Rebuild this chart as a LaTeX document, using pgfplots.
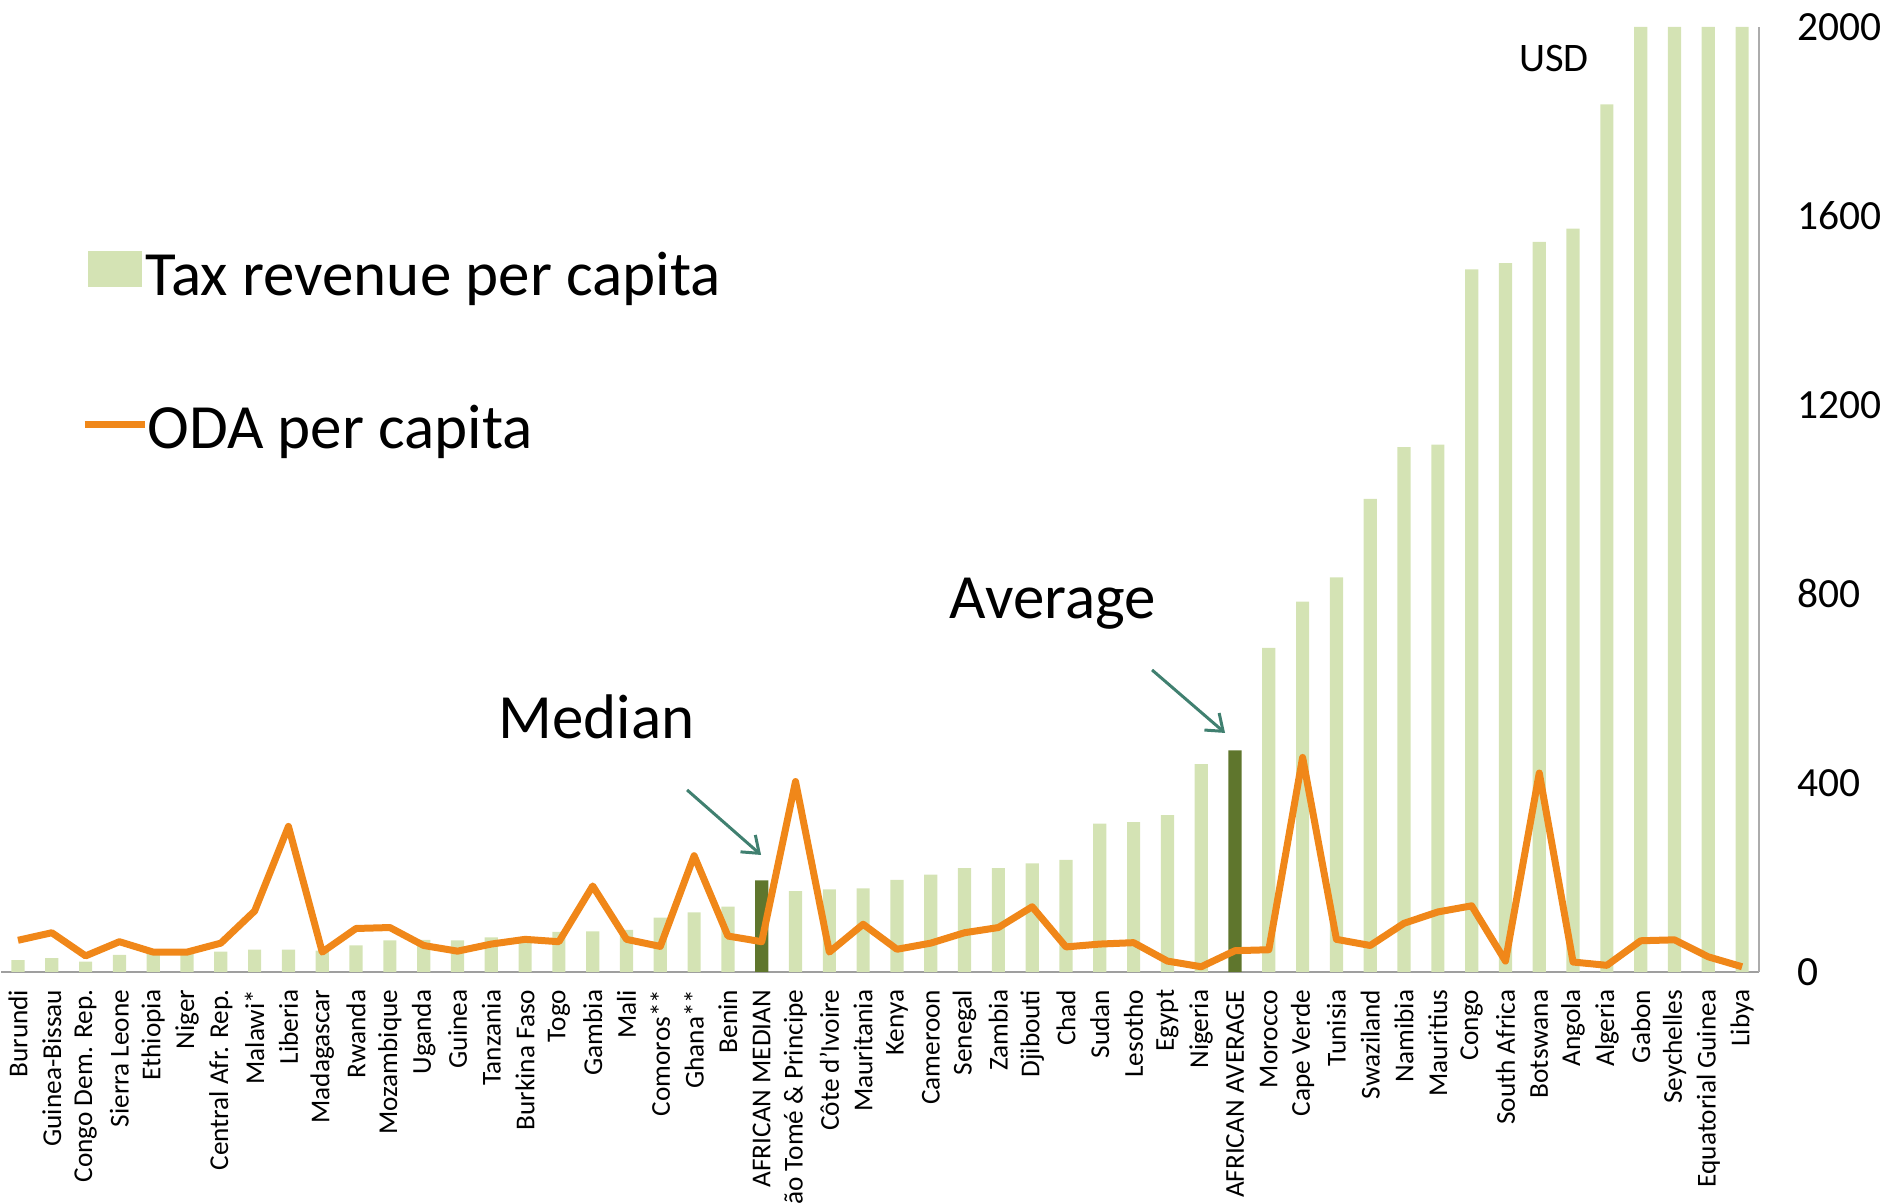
\documentclass[border=0pt]{standalone}
\usepackage{fontspec}
\setmainfont{Carlito}
\usepackage{pgfplots}
\pgfplotsset{compat=1.18}
\usetikzlibrary{arrows.meta}
\definecolor{lgreen}{RGB}{212,227,180}
\definecolor{dgreen}{RGB}{95,118,45}
\definecolor{odaorange}{RGB}{240,135,25}
\definecolor{arrowteal}{RGB}{64,128,112}
\begin{document}
\begin{tikzpicture}
\begin{axis}[
  scale only axis, width=703.2pt, height=378pt,
  xmin=-0.5, xmax=51.5, ymin=0, ymax=2000,
  axis x line*=bottom, axis y line*=right,
  x axis line style={draw=gray!75, line width=0.8pt},
  y axis line style={draw=gray!65, line width=0.5pt},
  xtick={0,...,51},
  xticklabels={Burundi,Guinea-Bissau,Congo Dem. Rep.,Sierra Leone,Ethiopia,Niger,Central Afr. Rep.,Malawi*,Liberia,Madagascar,Rwanda,Mozambique,Uganda,Guinea,Tanzania,Burkina Faso,Togo,Gambia,Mali,Comoros**,Ghana**,Benin,AFRICAN MEDIAN,São Tomé \& Principe,Côte d'Ivoire,Mauritania,Kenya,Cameroon,Senegal,Zambia,Djibouti,Chad,Sudan,Lesotho,Egypt,Nigeria,AFRICAN AVERAGE,Morocco,Cape Verde,Tunisia,Swaziland,Namibia,Mauritius,Congo,South Africa,Botswana,Angola,Algeria,Gabon,Seychelles,Equatorial Guinea,Libya},
  xticklabel style={rotate=90, anchor=east, font=\fontsize{10.9}{12}\selectfont, xshift=-3.6pt},
  ytick={0,400,800,1200,1600,2000},
  yticklabel style={font=\fontsize{16.6}{20}\selectfont, anchor=west, xshift=12pt},
  /pgf/number format/assume math mode=true,
  /pgf/number format/1000 sep={},
  major tick length=0pt,
]
\addplot[ybar, bar width=0.39, bar shift=0pt, fill=lgreen, draw=none] coordinates {
(0,25) (1,29) (2,22) (3,36) (4,41) (5,41) (6,43) (7,47) (8,47) (9,45)
(10,56) (11,67) (12,68) (13,67) (14,73) (15,73) (16,85) (17,86) (18,89) (19,115)
(20,126) (21,138) (23,171) (24,175) (25,177) (26,195) (27,206) (28,220) (29,220)
(30,230) (31,237) (32,314) (33,317) (34,332) (35,440) (37,686) (38,784) (39,835)
(40,1001) (41,1111) (42,1116) (43,1487) (44,1500) (45,1545) (46,1573) (47,1836)
(48,2000) (49,2000) (50,2000) (51,2000)};
\addplot[ybar, bar width=0.39, bar shift=0pt, fill=dgreen, draw=none] coordinates {
(22,194) (36,469)};
\addplot[odaorange, line width=2.8pt, line join=round, mark=none] coordinates {
(0,67) (1,83) (2,34) (3,64) (4,42) (5,42) (6,61) (7,129) (8,308) (9,42)
(10,92) (11,94) (12,56) (13,44) (14,59) (15,69) (16,64) (17,182) (18,69) (19,54)
(20,246) (21,76) (22,64) (23,403) (24,42) (25,101) (26,48) (27,61) (28,83) (29,94)
(30,138) (31,53) (32,59) (33,62) (34,23) (35,11) (36,45) (37,47) (38,454) (39,69)
(40,56) (41,103) (42,127) (43,140) (44,23) (45,421) (46,21) (47,14) (48,66) (49,68)
(50,32) (51,11)};
\end{axis}
% legend
\fill[lgreen] (34.8pt,274pt) rectangle (56.4pt,288.4pt);
\node[anchor=base west, inner sep=0pt, font=\fontsize{25.2}{30}\selectfont] at (57.6pt,270.4pt) {Tax revenue per capita};
\draw[odaorange, line width=2.8pt] (33.4pt,218.8pt) -- (57.6pt,218.8pt);
\node[anchor=base west, inner sep=0pt, font=\fontsize{25.2}{30}\selectfont] at (58.4pt,209.2pt) {ODA per capita};
% annotations
\node[anchor=base, inner sep=0pt, font=\fontsize{25.2}{30}\selectfont] at (238.1pt,93.2pt) {Median};
\node[anchor=base, inner sep=0pt, font=\fontsize{25.2}{30}\selectfont] at (420.7pt,141.2pt) {Average};
\node[anchor=base, inner sep=0pt, font=\fontsize{16.2}{20}\selectfont] at (621.1pt,360.3pt) {USD};
\draw[arrowteal, line width=1.2pt, -{Straight Barb[length=6pt,width=9pt]}] (274.4pt,72.8pt) -- (304.0pt,46.8pt);
\draw[arrowteal, line width=1.2pt, -{Straight Barb[length=6pt,width=9pt]}] (460.4pt,120.8pt) -- (489.6pt,95.6pt);
\pgfresetboundingbox
\useasboundingbox (-0.44pt,-92.8pt) rectangle (756.8pt,388.8pt);
\end{tikzpicture}
\end{document}
